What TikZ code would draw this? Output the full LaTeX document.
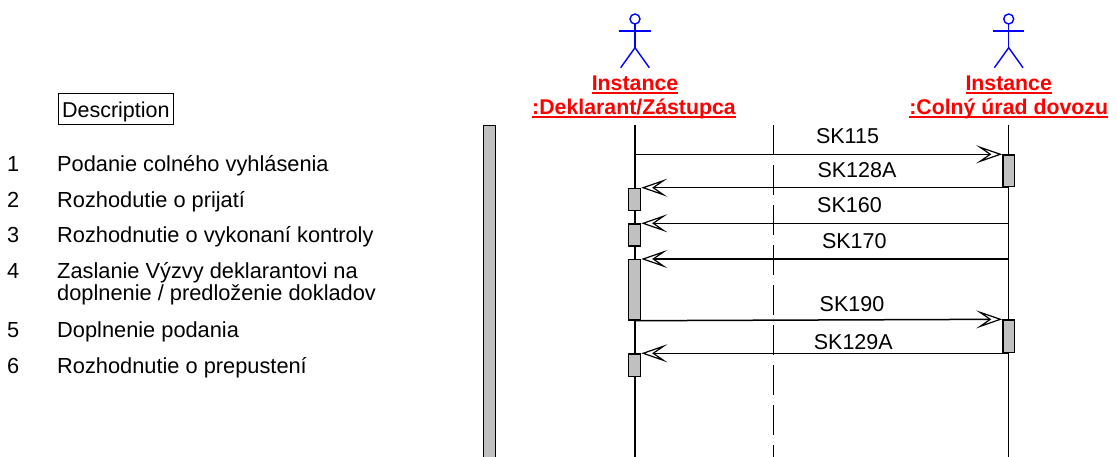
\documentclass[tikz,border=0pt]{standalone}
\usepackage{fontspec}
\setmainfont{Liberation Sans}
\usetikzlibrary{arrows.meta}
\definecolor{actblue}{HTML}{0000FF}
\definecolor{lblred}{HTML}{FF0000}
\definecolor{boxgray}{HTML}{C0C0C0}
\newcommand\myul[1]{\setbox0\hbox{#1}\rlap{\rule[-2.8pt]{\wd0}{1.5pt}}\box0}
\tikzset{
  lifeline/.style={line width=1.5pt, black},
  actbox/.style={draw=black, fill=boxgray, line width=1.4pt, inner sep=0pt, minimum width=12pt},
  msg/.style={line width=1.5pt, -{Stealth[open, length=26pt, width=18pt, inset=13pt, line width=1.2pt]}},
  msglbl/.style={anchor=base, inner sep=0pt, font=\fontsize{21.5}{25}\selectfont},
  instlbl/.style={anchor=base, inner sep=0pt, text=lblred, font=\fontsize{21.3}{25}\selectfont\bfseries},
  listtxt/.style={anchor=base west, inner sep=0pt, font=\fontsize{21.8}{25}\selectfont},
  umlactor/.pic={
    \draw[actblue, line width=1.4pt] (0,19) circle[radius=5];
    \draw[actblue, line width=1.4pt] (0,24) -- (0,47.7);
    \draw[actblue, line width=1.4pt] (-15.7,31) -- (15.7,31);
    \draw[actblue, line width=1.4pt] (-14.3,67.7) -- (0,47.7) -- (14.3,67.7);
  }
}
\begin{document}
\begin{tikzpicture}[x=1pt, y=-1pt]
\useasboundingbox (0,0) rectangle (1117,457);

% left description
\node[draw=black, line width=1.3pt, minimum width=115pt, minimum height=31pt, inner sep=0pt,
      text height=17.8pt, text depth=0pt, font=\fontsize{21.5}{25}\selectfont] (desc) at (115.8,108.8) {Description};
\node[listtxt] (n1) at (7,171.7) {1};
\node[listtxt] (t1) at (57,171.7) {Podanie colného vyhlásenia};
\node[listtxt] (n2) at (7,207.3) {2};
\node[listtxt] (t2) at (57,207.3) {Rozhodutie o prijatí};
\node[listtxt] (n3) at (7,243) {3};
\node[listtxt] (t3) at (57,243) {Rozhodnutie o vykonaní kontroly};
\node[listtxt] (n4) at (7,278.5) {4};
\node[listtxt] (t4) at (57,278.5) {Zaslanie Výzvy deklarantovi na};
\node[listtxt] (t4b) at (57,300.5) {doplnenie / predloženie dokladov};
\node[listtxt] (n5) at (7,337) {5};
\node[listtxt] (t5) at (57,337) {Doplnenie podania};
\node[listtxt] (n6) at (7,373) {6};
\node[listtxt] (t6) at (57,373) {Rozhodnutie o prepustení};

% gray bar
\node[draw=black, fill=boxgray, line width=1.4pt, inner sep=0pt, minimum width=12.4pt, minimum height=340pt, anchor=north] (bar) at (489.5,125) {};

% actors
\pic at (635,0) {umlactor};
\pic at (1008.7,0) {umlactor};
\node[instlbl] (i1a) at (635,91) {\myul{Instance}};
\node[instlbl] (i1b) at (634,115) {\myul{:Deklarant/Zástupca}};
\node[instlbl] (i2a) at (1008.7,91) {\myul{Instance}};
\node[instlbl] (i2b) at (1008.7,115) {\myul{:Colný úrad dovozu}};

% lifelines
\coordinate (l1t) at (635,125);
\coordinate (l1b) at (635,457);
\coordinate (l2t) at (1008.7,125);
\coordinate (l2b) at (1008.7,457);
\coordinate (dt) at (773.7,125);
\coordinate (db) at (773.7,457);
\draw[lifeline] (l1t) -- (l1b);
\draw[lifeline] (l2t) -- (l2b);
\draw[lifeline, dash pattern=on 30pt off 10pt] (dt) -- (db);

% activation boxes
\node[actbox, minimum height=22.3pt, anchor=north] (b1) at (634.6,187.7) {};
\node[actbox, minimum height=22pt, anchor=north] (b2) at (634.6,223.3) {};
\node[actbox, minimum height=60.3pt, anchor=north] (b3) at (634.6,259) {};
\node[actbox, minimum height=22.4pt, anchor=north] (b4) at (634.6,353.3) {};
\node[actbox, minimum width=11.6pt, minimum height=31.7pt, anchor=north] (r1) at (1008.7,154.3) {};
\node[actbox, minimum width=11.6pt, minimum height=32.2pt, anchor=north] (r2) at (1008.7,319.3) {};

% message endpoints on lifelines
\coordinate (s1) at (635,154.3);
\coordinate (s2) at (1008.7,187.7);
\coordinate (s3) at (1008.7,223.3);
\coordinate (s4) at (1008.7,259);
\coordinate (s6) at (1008.7,353.3);

% messages
\draw[msg] (s1) -- (r1.north west);
\draw[msg] (s2) -- (b1.north east);
\draw[msg] (s3) -- (b2.north east);
\draw[msg] (s4) -- (b3.north east);
\draw[msg] (b3.south) -- (r2.north west);
\draw[msg] (s6) -- (b4.north east);

% message labels
\node[msglbl] (m1) at (847.5,144) {SK115};
\node[msglbl] (m2) at (857,177.3) {SK128A};
\node[msglbl] (m3) at (849.5,212.3) {SK160};
\node[msglbl] (m4) at (854.3,249) {SK170};
\node[msglbl] (m5) at (852,311.7) {SK190};
\node[msglbl] (m6) at (853.3,349) {SK129A};
\end{tikzpicture}
\end{document}
